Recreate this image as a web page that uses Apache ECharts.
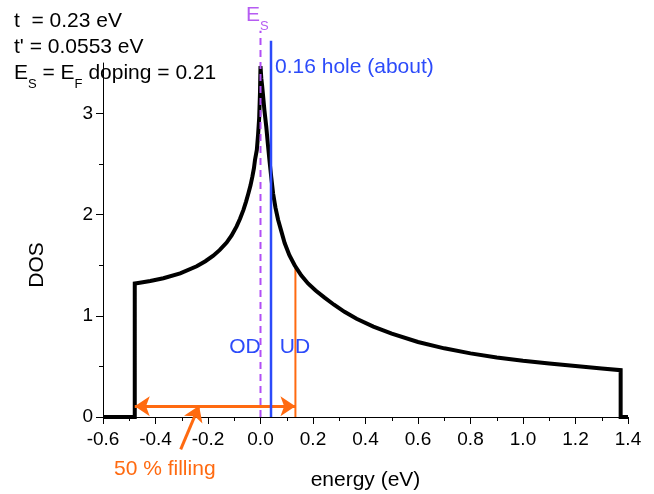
<!DOCTYPE html>
<html>
<head>
<meta charset="utf-8">
<script src="https://cdn.jsdelivr.net/npm/echarts@6/dist/echarts.min.js"></script>
<style>
html,body{margin:0;padding:0;background:#fff;}
#c{width:654px;height:494px;}
</style>
</head>
<body>
<div id="c"></div>
<script>
// ---- data ----
var energy = [-0.6, -0.479, -0.479, -0.46, -0.42, -0.37, -0.306, -0.243, -0.21, -0.18, -0.155, -0.129, -0.11, -0.091, -0.078, -0.065, -0.055, -0.046, -0.038, -0.031, -0.025, -0.021, -0.014, -0.009, -0.005, -0.002, 0.0,
              0.003, 0.006, 0.009, 0.015, 0.022, 0.028, 0.034, 0.041, 0.048, 0.057, 0.067, 0.08, 0.092, 0.11, 0.13, 0.155, 0.181, 0.21, 0.244, 0.28, 0.32, 0.366, 0.43, 0.5, 0.6, 0.7, 0.8, 0.9, 1.0, 1.1, 1.2, 1.3, 1.372, 1.372, 1.4];
var dos = [0, 0, 1.32, 1.328, 1.345, 1.372, 1.42, 1.49, 1.54, 1.595, 1.652, 1.725, 1.795, 1.885, 1.96, 2.048, 2.13, 2.213, 2.29, 2.376, 2.46, 2.541, 2.64, 2.8, 2.96, 3.2, 3.47,
           3.35, 3.28, 3.2, 3.03, 2.87, 2.7, 2.54, 2.37, 2.21, 2.07, 1.95, 1.83, 1.72, 1.6, 1.5, 1.4, 1.32, 1.25, 1.18, 1.11, 1.04, 0.971, 0.894, 0.824, 0.742, 0.679, 0.629, 0.589, 0.556, 0.53, 0.505, 0.48, 0.463, 0, 0];

var esEnergy = 0.0;         // E_S (purple dashed)
var esTop = 3.82;
var holeEnergy = 0.04;      // 0.16 hole (blue)
var holeTop = 3.72;
var halfFillEnergy = 0.133; // 50 % filling edge (orange)
var halfFillTop = 1.51;
var bandBottom = -0.479;
var fillArrowY = 0.107;
var pointerFrom = [-0.304, -0.32];
var pointerTo = [-0.234, 0.11];

var xTicks = { min: -0.6, max: 1.4, step: 0.2 };
var yMajorTicks = [0, 1, 2, 3];
var yMinorTicks = [0.5, 1.5, 2.5];

var FONT = '"Liberation Sans", Arial, sans-serif';
var BLUE = '#2c4bfa', ORANGE = '#ff6a10', PURPLE = '#b14ef5', PURPLE_T = '#b65cf2';

var curve = energy.map(function (e, i) { return [e, dos[i]]; });

var chart = echarts.init(document.getElementById('c'), null, { renderer: 'canvas' });

function subText(x, y, color, parts) {
  return {
    type: 'text', x: x, y: y, silent: true, z: 100,
    style: {
      text: parts,
      fill: color,
      fontSize: 21, fontFamily: FONT,
      verticalAlign: 'middle', textVerticalAlign: 'middle',
      align: 'left', textAlign: 'left',
      rich: {
        m: { fontSize: 21, fontFamily: FONT, lineHeight: 24, fill: color },
        s: { fontSize: 13, fontFamily: FONT, lineHeight: 14, padding: [22, 0, 0, 0], fill: color }
      }
    }
  };
}
function plainText(x, y, txt, color, size, align) {
  return {
    type: 'text', x: x, y: y, silent: true, z: 100,
    style: {
      text: txt, fill: color, fontSize: size || 21, fontFamily: FONT,
      verticalAlign: 'middle', textVerticalAlign: 'middle',
      align: align || 'left', textAlign: align || 'left'
    }
  };
}

var arrowLineStyle = { color: ORANGE, width: 3, type: 'solid' };

var option = {
  animation: false,
  backgroundColor: '#fff',
  grid: { left: 103, right: 26, top: 63, bottom: 77, outerBoundsMode: 'none', containLabel: false },
  xAxis: {
    type: 'value', min: xTicks.min, max: xTicks.max, interval: xTicks.step,
    name: 'energy (eV)', nameLocation: 'middle', nameGap: 53,
    nameTextStyle: { fontSize: 21, fontFamily: FONT, color: '#000' },
    axisLine: { show: true, onZero: false, lineStyle: { color: '#000', width: 1 } },
    axisTick: { show: true, inside: false, length: 7, lineStyle: { color: '#000', width: 1 } },
    minorTick: { show: true, splitNumber: 2, length: 4, lineStyle: { color: '#000', width: 1 } },
    axisLabel: {
      fontSize: 19, fontFamily: FONT, color: '#000', margin: 13,
      formatter: function (v) { if (Math.abs(v) < 1e-9) v = 0; return v.toFixed(1); }
    },
    splitLine: { show: false }, minorSplitLine: { show: false }
  },
  yAxis: [{
    type: 'value', min: 0, max: 3.5, position: 'left',
    name: 'DOS', nameLocation: 'middle', nameGap: 55, nameRotate: 90,
    nameTextStyle: { fontSize: 21, fontFamily: FONT, color: '#000', padding: [0, 50, 0, 0] },
    axisLine: { show: true, onZero: false, lineStyle: { color: '#000', width: 1 } },
    axisTick: { show: true, inside: false, length: 7, customValues: yMajorTicks, lineStyle: { color: '#000', width: 1 } },
    axisLabel: { fontSize: 19, fontFamily: FONT, color: '#000', margin: 10, customValues: yMajorTicks },
    splitLine: { show: false }
  }, {
    type: 'value', min: 0, max: 3.5, position: 'left', offset: 0,
    axisLine: { show: false, onZero: false },
    axisTick: { show: true, inside: false, length: 4, customValues: yMinorTicks, lineStyle: { color: '#000', width: 1 } },
    axisLabel: { show: false },
    splitLine: { show: false }
  }],
  series: [
    {
      name: 'DOS', type: 'line', data: curve, showSymbol: false, symbol: 'none',
      lineStyle: { color: '#000', width: 4, join: 'miter' }, z: 3, silent: true, clip: false
    },
    {
      name: 'Es', type: 'line', data: [[esEnergy, 0], [esEnergy, esTop]], symbol: 'none',
      lineStyle: { color: PURPLE, width: 2, type: [7, 5] }, z: 6, silent: true, clip: false
    },
    {
      name: 'hole', type: 'line', data: [[holeEnergy, 0], [holeEnergy, holeTop]], symbol: 'none',
      lineStyle: { color: BLUE, width: 2.5 }, z: 5, silent: true, clip: false
    },
    {
      name: 'half', type: 'line', data: [[halfFillEnergy, 0], [halfFillEnergy, halfFillTop]], symbol: 'none',
      lineStyle: { color: ORANGE, width: 2 }, z: 2, silent: true, clip: false,
      markLine: {
        silent: true, animation: false,
        label: { show: false },
        lineStyle: arrowLineStyle,
        symbol: ['arrow', 'arrow'], symbolSize: 15,
        data: [
          [{ coord: [bandBottom, fillArrowY], symbol: 'arrow' }, { coord: [halfFillEnergy, fillArrowY], symbol: 'arrow' }]
        ]
      }
    },
    {
      name: 'pointer', type: 'line', data: [], symbol: 'none', silent: true, clip: false, z: 4,
      markLine: { silent: true, animation: false, label: { show: false }, lineStyle: arrowLineStyle, symbolSize: 15, data: [] }
    }
  ],
  graphic: [
    plainText(14, 21, 't  = 0.23 eV', '#000'),
    plainText(14, 47, "t' = 0.0553 eV", '#000'),
    subText(14, 73, '#000', '{m|E}{s|S}{m| = E}{s|F}{m| doping = 0.21}'),
    subText(246, 15, PURPLE_T, '{m|E}{s|S}'),
    plainText(275, 67, '0.16 hole (about)', BLUE),
    plainText(245, 347, 'OD', BLUE, 21, 'center'),
    plainText(295, 347, 'UD', BLUE, 21, 'center'),
    plainText(114, 469, '50 % filling', ORANGE)
  ]
};
chart.setOption(option);

// the pointer arrow starts below the axis range; place it through the library's own scales
var p1 = chart.convertToPixel({ gridIndex: 0 }, pointerFrom);
var p2 = chart.convertToPixel({ gridIndex: 0 }, pointerTo);
chart.setOption({
  series: [{}, {}, {}, {}, {
    markLine: {
      data: [[{ x: p1[0], y: p1[1], symbol: 'none' }, { x: p2[0], y: p2[1], symbol: 'arrow' }]]
    }
  }]
});
</script>
</body>
</html>
